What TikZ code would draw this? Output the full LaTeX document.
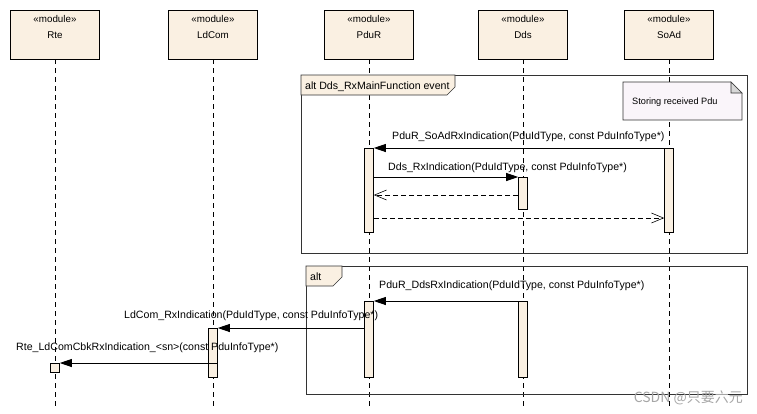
\documentclass[tikz,border=0pt]{standalone}
\usepackage{fontspec}
\setmainfont{Liberation Sans}
\newfontfamily\cjkfont{Noto Sans CJK SC}
\usetikzlibrary{arrows.meta,calc}
\definecolor{beige}{RGB}{250,240,226}
\definecolor{notefill}{RGB}{250,245,250}
\definecolor{earfill}{RGB}{215,215,215}
\tikzset{
  every node/.style={font=\fontsize{10.6}{12}\selectfont, inner sep=0pt},
  modbox/.style={draw, fill=beige, minimum width=89pt, minimum height=49pt, line width=0.8pt},
  lifeline/.style={line width=0.6pt, dash pattern=on 5pt off 4pt},
  act/.style={draw, fill=beige, minimum width=9pt, anchor=north, line width=0.6pt},
  call/.style={line width=0.8pt, -{Triangle[length=12pt,width=8pt]}},
  ret/.style={line width=0.6pt, dash pattern=on 5pt off 3pt, -{Straight Barb[length=12pt,width=10pt,line width=0.6pt]}},
  framebox/.style={draw=black!80, line width=0.8pt},
  framelbl/.style={draw=black!80, fill=beige, line width=0.6pt},
  msg/.style={anchor=base west},
}
\begin{document}
\begin{tikzpicture}[x=1pt,y=-1pt]
\useasboundingbox (0,0) rectangle (757,413);
% module boxes
\foreach \n/\x/\t in {rte/55/Rte, ldcom/213/LdCom, pdur/369/PduR, dds/523/Dds, soad/669/SoAd}{
  \node[modbox] (\n) at (\x,34.5) {};
  \node[anchor=base] (\n s) at ($(\n.north)+(0,12.5)$) {\fontsize{9.8}{11}\selectfont «module»};
  \node[anchor=base] (\n t) at ($(\n.north)+(0,29)$) {\fontsize{9.8}{11}\selectfont \t};
  \coordinate (\n e) at (\x,406);
  \draw[lifeline] (\n.south) -- (\n e);
}
% frame 1
\draw[framebox] (301,75) rectangle (747,253);
\path[framelbl] (301,75) -- (455,75) -- (455,87) -- (447,95) -- (301,95) -- cycle;
\node[anchor=base west] (f1l) at (305,89) {alt Dds\_RxMainFunction event};
% note
\path[draw=black!80, fill=notefill, line width=0.6pt] (623,82) -- (731,82) -- (742,93) -- (742,120) -- (623,120) -- cycle;
\path[draw=black!80, fill=earfill, line width=0.6pt] (731,82) -- (731,93) -- (742,93) -- cycle;
\node[anchor=west] (note) at (632,102) {\fontsize{9.2}{11}\selectfont Storing received Pdu};
% activations frame 1
\node[act, minimum height=84pt] (pa1) at (369,148) {};
\node[act, minimum height=84pt] (sa1) at (669,148) {};
\node[act, minimum height=32pt] (da1) at (523,177) {};
\draw[call] (sa1.north west) -- (pa1.north east);
\node[msg] (m1) at (392,139) {PduR\_SoAdRxIndication(PduIdType, const PduInfoType*)};
\draw[call] (pa1.east |- da1.north) -- (da1.north west);
\node[msg] (m2) at (388,170) {Dds\_RxIndication(PduIdType, const PduInfoType*)};
\draw[ret] (da1.west |- 0,195) -- (pa1.east |- 0,195);
\draw[ret] (pa1.east |- 0,218) -- (sa1.west |- 0,218);
% frame 2
\draw[framebox] (306,266) rectangle (747,394);
\path[framelbl] (306,266) -- (342,266) -- (342,277) -- (333,286) -- (306,286) -- cycle;
\node[anchor=base west] (f2l) at (310,280) {alt};
\node[act, minimum height=76pt] (pa2) at (369,301) {};
\node[act, minimum height=76pt] (da2) at (523,301) {};
\node[act, minimum height=49pt] (la2) at (213,328) {};
\node[act, minimum height=9pt] (ra2) at (55,363) {};
\draw[call] (da2.north west) -- (pa2.north east);
\node[msg] (m3) at (379,288) {PduR\_DdsRxIndication(PduIdType, const PduInfoType*)};
\draw[call] (pa2.west |- la2.north) -- (la2.north east);
\node[msg] (m4) at (124,318) {LdCom\_RxIndication(PduIdType, const PduInfoType*)};
\draw[call] (la2.east |- ra2.north) -- (ra2.north east);
\node[msg] (m5) at (16,350) {Rte\_LdComCbkRxIndication\_<sn>(const PduInfoType*)};
% watermark
\node[anchor=base east, text=black!35] (wm) at (743,402) {\cjkfont\fontsize{14}{16}\selectfont CSDN @只要六元};
\end{tikzpicture}
\end{document}
